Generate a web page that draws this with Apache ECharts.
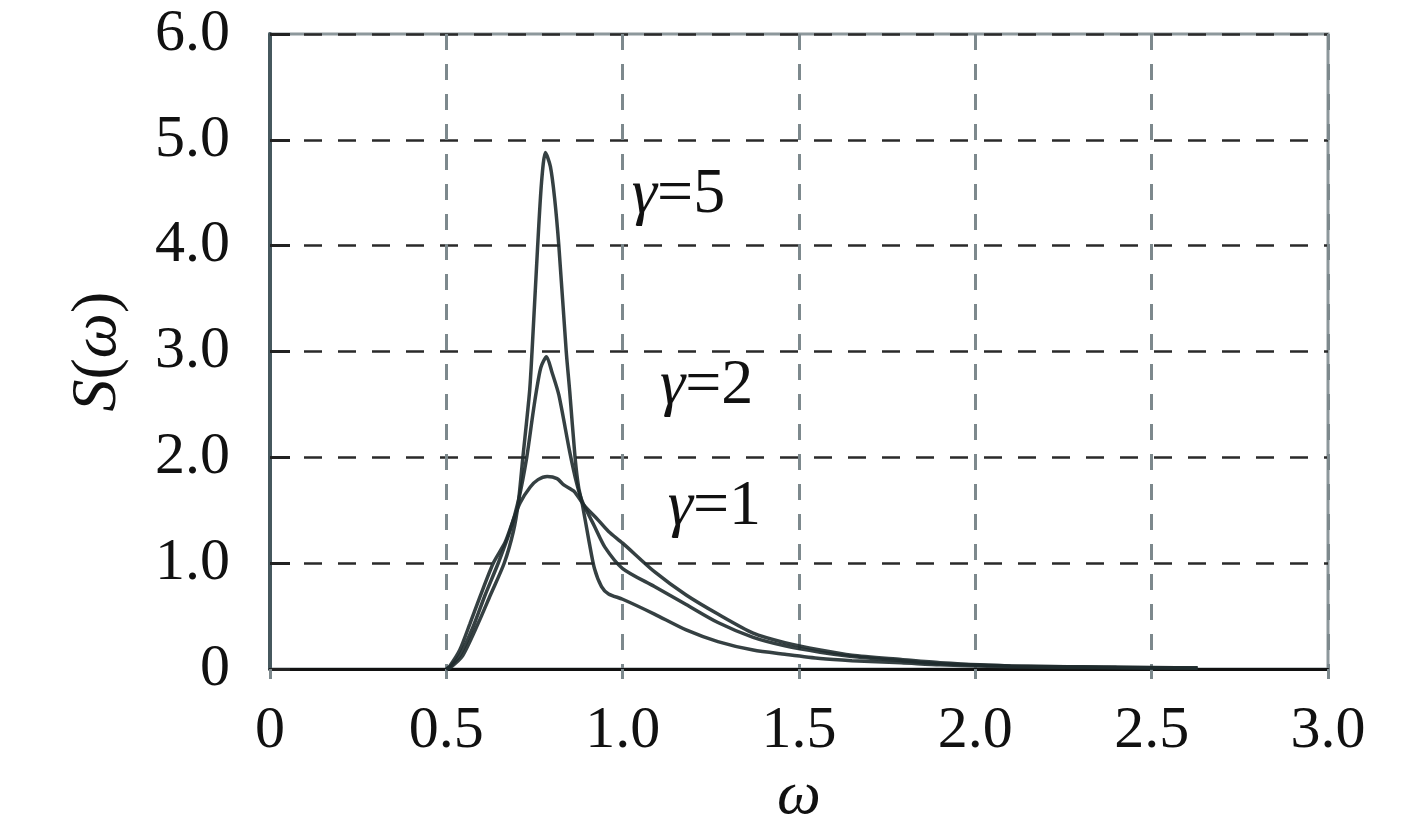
<!DOCTYPE html>
<html>
<head>
<meta charset="utf-8">
<script src="https://cdn.jsdelivr.net/npm/echarts@6/dist/echarts.min.js"></script>
<style>html,body{margin:0;padding:0;background:#fff;}#c{width:1417px;height:833px;}</style>
</head>
<body>
<div id="c"></div>
<script>
// ---- Data ----
var xTicks = [0, 0.5, 1.0, 1.5, 2.0, 2.5, 3.0];
var yTicks = [0, 1, 2, 3, 4, 5, 6];
var gamma1 = [[0.50,0],[0.51,0.03],[0.538,0.18],[0.567,0.43],[0.595,0.68],[0.633,1.0],[0.667,1.2],[0.69,1.41],[0.709,1.57],[0.738,1.72],[0.76,1.79],[0.786,1.82],[0.814,1.80],[0.833,1.74],[0.862,1.68],[0.89,1.55],[0.93,1.41],[0.96,1.30],[1.0,1.19],[1.09,0.92],[1.18,0.70],[1.27,0.52],[1.37,0.34],[1.46,0.25],[1.56,0.18],[1.65,0.13],[1.79,0.09],[1.9,0.06],[2.1,0.03],[2.4,0.02],[2.63,0.01]];
var gamma2 = [[0.50,0],[0.51,0.02],[0.54,0.14],[0.576,0.40],[0.61,0.70],[0.647,1.0],[0.68,1.3],[0.705,1.6],[0.728,2.0],[0.745,2.4],[0.755,2.62],[0.768,2.85],[0.784,2.95],[0.80,2.8],[0.819,2.59],[0.85,2.05],[0.87,1.75],[0.886,1.58],[0.92,1.35],[0.95,1.15],[1.0,0.95],[1.09,0.78],[1.18,0.61],[1.27,0.44],[1.37,0.30],[1.46,0.22],[1.56,0.16],[1.65,0.12],[1.79,0.08],[1.9,0.05],[2.1,0.03],[2.4,0.015],[2.63,0.01]];
var gamma5 = [[0.50,0],[0.51,0.01],[0.545,0.12],[0.59,0.43],[0.625,0.7],[0.664,1.0],[0.69,1.3],[0.704,1.57],[0.717,2.0],[0.736,2.62],[0.743,3.0],[0.759,4.0],[0.77,4.6],[0.781,4.88],[0.795,4.75],[0.807,4.45],[0.819,4.0],[0.84,3.0],[0.85,2.62],[0.865,2.0],[0.875,1.72],[0.886,1.55],[0.905,1.2],[0.92,0.95],[0.94,0.78],[0.96,0.71],[1.0,0.66],[1.09,0.52],[1.18,0.37],[1.27,0.26],[1.37,0.18],[1.46,0.14],[1.56,0.10],[1.65,0.08],[1.79,0.06],[1.9,0.04],[2.1,0.02],[2.4,0.012],[2.63,0.01]];
var labelTexts = ['5', '2', '1'];
var labelAnchors = [[1.026, 4.48], [1.106, 2.67], [1.128, 1.53]];

var serif = '"Liberation Serif", "Times New Roman", serif';
var lineColor = '#1f2b2d';
function fmt(v){ return v === 0 ? '0' : v.toFixed(1); }

var chart = echarts.init(document.getElementById('c'), null, {renderer:'canvas'});
function mkSeries(name, data){
  return {name:name, type:'line', data:data, showSymbol:false, smooth:0.25,
    lineStyle:{color:lineColor, width:3.5, opacity:0.9}, z:3};
}
chart.setOption({
  animation:false,
  backgroundColor:'#fff',
  grid:{left:270, right:89, top:34, bottom:153, show:true, borderColor:'#8d989c', borderWidth:3, backgroundColor:'transparent'},
  xAxis:{type:'value', min:0, max:3, interval:0.5,
    name:'ω', nameLocation:'middle', nameGap:86,
    nameTextStyle:{fontFamily:serif, fontSize:62, fontStyle:'italic', color:'#111'},
    axisLine:{show:true, onZero:false, lineStyle:{color:'#111', width:3}},
    axisTick:{show:true, length:10, lineStyle:{color:'#7d898d', width:3}},
    axisLabel:{fontFamily:serif, fontSize:60, color:'#111', margin:32, formatter:fmt},
    splitLine:{show:true, lineStyle:{color:'#7d898d', width:3, type:[16,14]}}
  },
  yAxis:{type:'value', min:0, max:6, interval:1,
    name:'{i|S}{n|(}{i|ω}{n|)}', nameLocation:'middle', nameGap:140, nameRotate:90,
    nameTextStyle:{fontFamily:serif, fontSize:64, color:'#111',
      rich:{i:{fontFamily:serif, fontSize:64, fontStyle:'italic', color:'#111'}, n:{fontFamily:serif, fontSize:64, color:'#111'}}},
    axisLine:{show:true, lineStyle:{color:'#46585e', width:4}},
    axisTick:{show:true, inside:true, length:20, lineStyle:{color:'#222', width:3}},
    axisLabel:{fontFamily:serif, fontSize:60, color:'#111', margin:40, formatter:fmt},
    splitLine:{show:true, lineStyle:{color:'#2a2a2a', width:2.5, type:[18,16]}}
  },
  series:[mkSeries('γ=1', gamma1), mkSeries('γ=2', gamma2), mkSeries('γ=5', gamma5)]
});
var g = [];
for (var k = 0; k < labelTexts.length; k++){
  var p = chart.convertToPixel({gridIndex:0}, labelAnchors[k]);
  g.push({type:'text', x:p[0], y:p[1], z:10,
    style:{text:'{i|γ}{n|=' + labelTexts[k] + '}', verticalAlign:'middle', align:'left',
      rich:{i:{fontFamily:serif, fontSize:64, fontStyle:'italic', fill:'#111'}, n:{fontFamily:serif, fontSize:64, fill:'#111'}}}});
}
chart.setOption({graphic:g});
</script>
</body>
</html>
